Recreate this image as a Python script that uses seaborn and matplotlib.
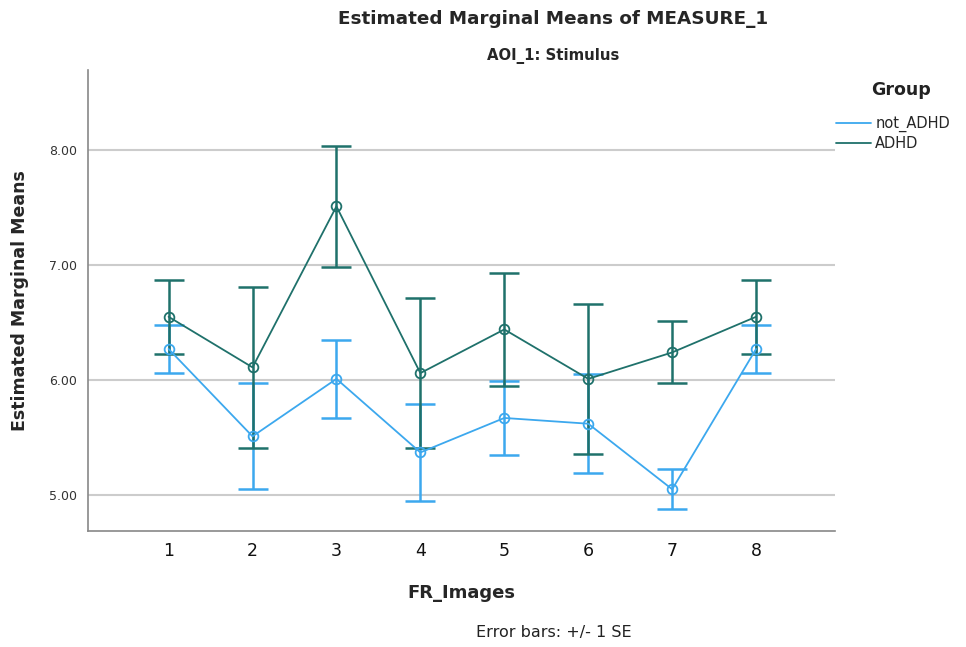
import matplotlib
matplotlib.use("Agg")
import matplotlib.pyplot as plt
from matplotlib.lines import Line2D
from matplotlib.ticker import FormatStrFormatter
import seaborn as sns
import pandas as pd

images = [1, 2, 3, 4, 5, 6, 7, 8]
groups = ["not_ADHD", "ADHD"]
not_adhd_mean = [6.27, 5.51, 6.01, 5.37, 5.67, 5.62, 5.05, 6.27]
not_adhd_se = [0.21, 0.46, 0.34, 0.42, 0.32, 0.43, 0.175, 0.21]
adhd_mean = [6.55, 6.11, 7.51, 6.06, 6.44, 6.01, 6.24, 6.55]
adhd_se = [0.32, 0.70, 0.525, 0.65, 0.49, 0.655, 0.27, 0.32]
yticks = [5.0, 6.0, 7.0, 8.0]

colors = {"not_ADHD": "#3CA8EE", "ADHD": "#1F716B"}

df = pd.DataFrame({
    "FR_Images": images * 2,
    "mean": not_adhd_mean + adhd_mean,
    "se": not_adhd_se + adhd_se,
    "Group": ["not_ADHD"] * len(images) + ["ADHD"] * len(images),
})

sns.set_style("white")
plt.rcParams["font.family"] = ["DejaVu Sans"]

fig = plt.figure(figsize=(9.66, 6.47), dpi=100)
ax = fig.add_axes([88 / 966, 1 - 531 / 647, (835 - 88) / 966, (531 - 70) / 647])

for g in groups:
    sub = df[df["Group"] == g]
    c = colors[g]
    ax.errorbar(sub["FR_Images"], sub["mean"], yerr=sub["se"], fmt="none",
                ecolor=c, elinewidth=1.8, capsize=10.5, capthick=1.8, zorder=3)
    sns.lineplot(data=sub, x="FR_Images", y="mean", color=c, ax=ax,
                 marker="o", markersize=7, mfc="none", mec=c, mew=1.3,
                 linewidth=1.3, errorbar=None, zorder=4)

ax.set_xlim(0.04, 8.94)
ax.set_ylim(4.687, 8.696)
ax.set_xticks(images)
ax.set_xticklabels([str(i) for i in images], fontsize=12.5)
ax.set_yticks(yticks)
ax.yaxis.set_major_formatter(FormatStrFormatter("%.2f"))
ax.tick_params(axis="y", labelsize=9, length=0, pad=8, labelcolor="#333333")
ax.tick_params(axis="x", length=0, pad=8, labelcolor="#111111")
ax.grid(axis="y", color="#cccccc", linewidth=1.5)
ax.grid(axis="x", visible=False)
ax.set_axisbelow(True)
for s in ["top", "right"]:
    ax.spines[s].set_visible(False)
for s in ["left", "bottom"]:
    ax.spines[s].set_color("#888888")
    ax.spines[s].set_linewidth(1.2)

ax.set_xlabel("FR_Images", fontsize=13, fontweight="bold", labelpad=17)
ax.set_ylabel("Estimated Marginal Means", fontsize=12.5, fontweight="bold", labelpad=14)

fig.text(553 / 966, 1 - 19 / 647, "Estimated Marginal Means of MEASURE_1",
         ha="center", va="center", fontsize=13.2, fontweight="bold")
fig.text(553 / 966, 1 - 56 / 647, "AOI_1: Stimulus",
         ha="center", va="center", fontsize=10.7, fontweight="bold")
fig.text(554 / 966, 1 - 633 / 647, "Error bars: +/- 1 SE",
         ha="center", va="center", fontsize=11.5, color="#222222")

fig.text(901 / 966, 1 - 90 / 647, "Group", ha="center", va="center",
         fontsize=12.5, fontweight="bold", color="#222222")
handles = [Line2D([0], [0], color=colors[g], linewidth=1.3) for g in groups]
leg = fig.legend(handles, groups, loc="upper left", bbox_to_anchor=(830 / 966, 1 - 110 / 647),
                 frameon=False, fontsize=10.5, handlelength=2.4,
                 handletextpad=0.3, labelspacing=0.3, borderaxespad=0)

fig.savefig("out.png", dpi=100)
